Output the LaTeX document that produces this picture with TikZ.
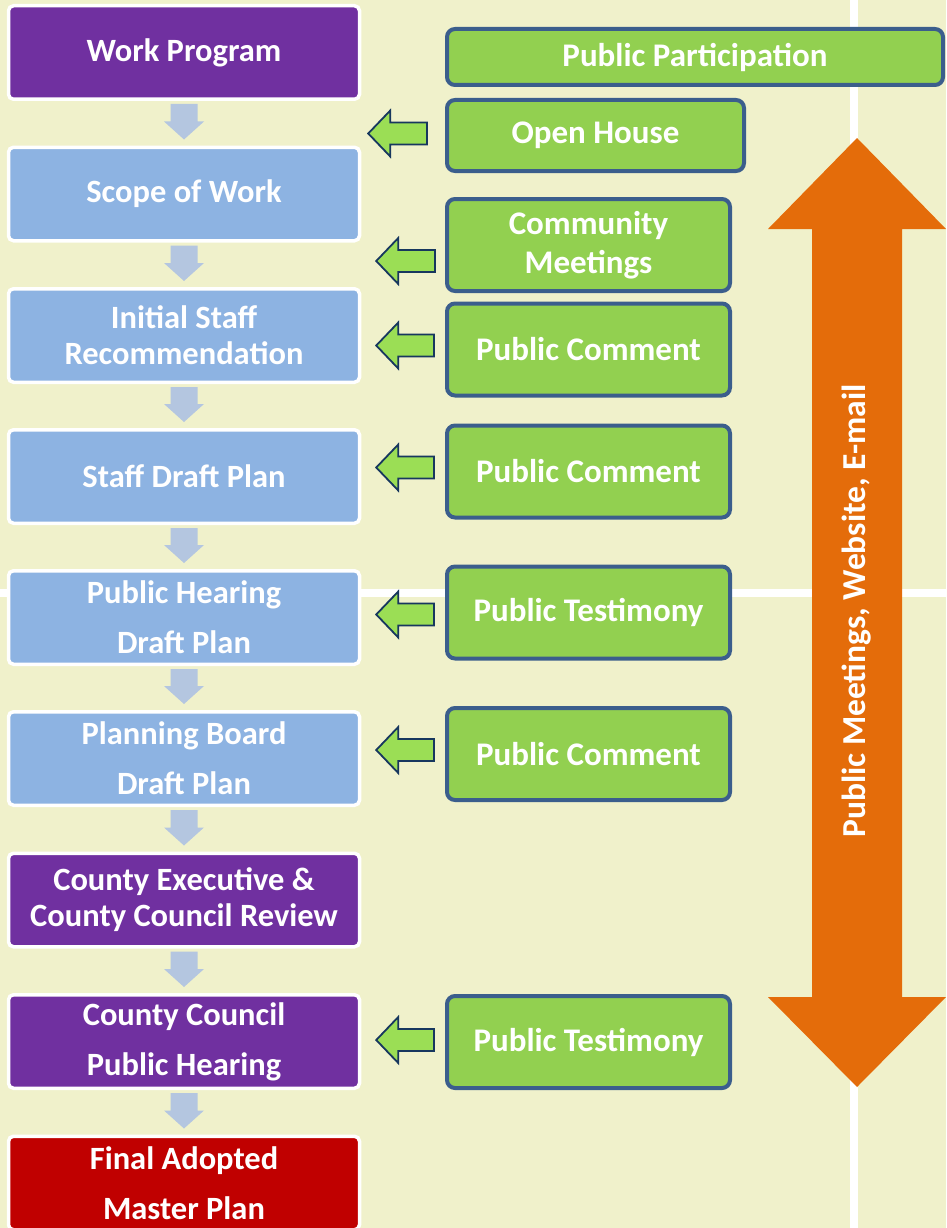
\documentclass[tikz,border=0pt]{standalone}
\usepackage{fontspec}
\setmainfont{Carlito}
\usetikzlibrary{calc}

\definecolor{bgbeige}{HTML}{F0F1CB}
\definecolor{stagepurple}{HTML}{7030A0}
\definecolor{stageblue}{HTML}{8DB3E2}
\definecolor{stagered}{HTML}{C00000}
\definecolor{forumgreen}{HTML}{92D050}
\definecolor{forumedge}{HTML}{3B5E8C}
\definecolor{feedgreen}{HTML}{9BDE55}
\definecolor{feednavy}{HTML}{17375E}
\definecolor{flowgrey}{HTML}{B4C6E0}
\definecolor{mediaorange}{HTML}{E46C0A}

\tikzset{
  stage/.style={rounded corners=5pt, draw=white, line width=3.5pt, minimum width=351pt,
    minimum height=93.5pt, align=center, text=white,
    font=\fontsize{32.5}{36}\selectfont\bfseries},
  forum/.style={rounded corners=8pt, draw=forumedge, fill=forumgreen, line width=4pt,
    minimum width=283pt, minimum height=92pt, align=center, text=white,
    font=\fontsize{33}{39}\selectfont\bfseries},
  feedarrow/.style={fill=feedgreen, draw=feednavy, line width=1.8pt, line join=miter},
  flowarrow/.style={fill=flowgrey},
  media/.style={text=white, font=\fontsize{33.5}{38}\selectfont\bfseries}
}

% arrow from a green box back to the plan stages
\newcommand{\feed}[5]{%
  \path ($(#1.west)+(-#4,#3)$) coordinate (fe) ($(#2.east |- fe)+(#5,0)$) coordinate (ft);
  \filldraw[feedarrow] ($(fe)+(0,-11)$) -- ($(ft)+(22,-11)$) -- ($(ft)+(22,-23)$) -- (ft)
    -- ($(ft)+(22,23)$) -- ($(ft)+(22,11)$) -- ($(fe)+(0,11)$) -- cycle;}

% block arrow from one stage down to the next
\newcommand{\flow}[2]{%
  \fill[flowarrow] ($(#1.south)+(-13.5,3)$) -- ($(#1.south)+(13.5,3)$) -- ($(#2.north)+(13.5,-24)$)
    -- ($(#2.north)+(20,-24)$) -- ($(#2.north)+(0,-6)$) -- ($(#2.north)+(-20,-24)$)
    -- ($(#2.north)+(-13.5,-24)$) -- cycle;}

\begin{document}
\begin{tikzpicture}[x=1pt,y=-1pt]
\useasboundingbox (0,0) rectangle (946,1228);
% backdrop
\fill[bgbeige] (0,0) rectangle (946,1228);
\fill[white] (850,0) rectangle (858,1228);
\fill[white] (0,589) rectangle (946,597);

% plan stages
\node[stage, fill=stagepurple] (wp) at (184,52.5) {Work Program};
\node[stage, fill=stageblue] (sow) at (184,194) {Scope of Work};
\node[stage, fill=stageblue] (isr) at (184,335.5) {Initial Staff\\Recommendation};
\node[stage, fill=stageblue] (sdp) at (184,476.5) {Staff Draft Plan};
\node[stage, fill=stageblue] (phd) at (184,617.5) {Public Hearing\\[14pt]Draft Plan};
\node[stage, fill=stageblue] (pbd) at (184,758.5) {Planning Board\\[14pt]Draft Plan};
\node[stage, fill=stagepurple] (cer) at (184,900) {County Executive \&\\County Council Review};
\node[stage, fill=stagepurple] (cph) at (184,1041.5) {County Council\\[14pt]Public Hearing};
\node[stage, fill=stagered] (fam) at (184,1183) {Final Adopted\\[14pt]Master Plan};

\foreach \a/\b in {wp/sow, sow/isr, isr/sdp, sdp/phd, phd/pbd, pbd/cer, cer/cph, cph/fam}
  \flow{\a}{\b};

% public participation
\node[forum, minimum width=496pt, minimum height=56pt] (pp) at (695,57) {Public Participation};
\node[forum, minimum width=297pt, minimum height=71pt] (oh) at (595.5,135.5) {Open House};
\node[forum] (cm) at (588.5,245) {Community\\Meetings};
\node[forum] (pc1) at (588.5,349.5) {Public Comment};
\node[forum] (pc2) at (588.5,471.5) {Public Comment};
\node[forum] (pt1) at (588.5,612.5) {Public Testimony};
\node[forum] (pc3) at (588.5,754) {Public Comment};
\node[forum] (pt2) at (588.5,1042) {Public Testimony};

\feed{oh}{sow}{-2}{18}{7}
\feed{cm}{sow}{16}{10}{15}
\feed{pc1}{isr}{-4}{11}{15}
\feed{pc2}{sdp}{-4}{11}{15}
\feed{pt1}{phd}{2}{11}{15}
\feed{pc3}{pbd}{-4}{11}{15}
\feed{pt2}{cph}{-2}{11}{15}

% outreach arrow
\fill[mediaorange] (857,138) -- (946,229) -- (902,229) -- (902,997) -- (946,997) -- (857,1087)
  -- (768,997) -- (812,997) -- (812,229) -- (768,229) -- cycle;
\node[media, rotate=90] (media) at (857,611) {Public Meetings, Website, E-mail};
\end{tikzpicture}
\end{document}
